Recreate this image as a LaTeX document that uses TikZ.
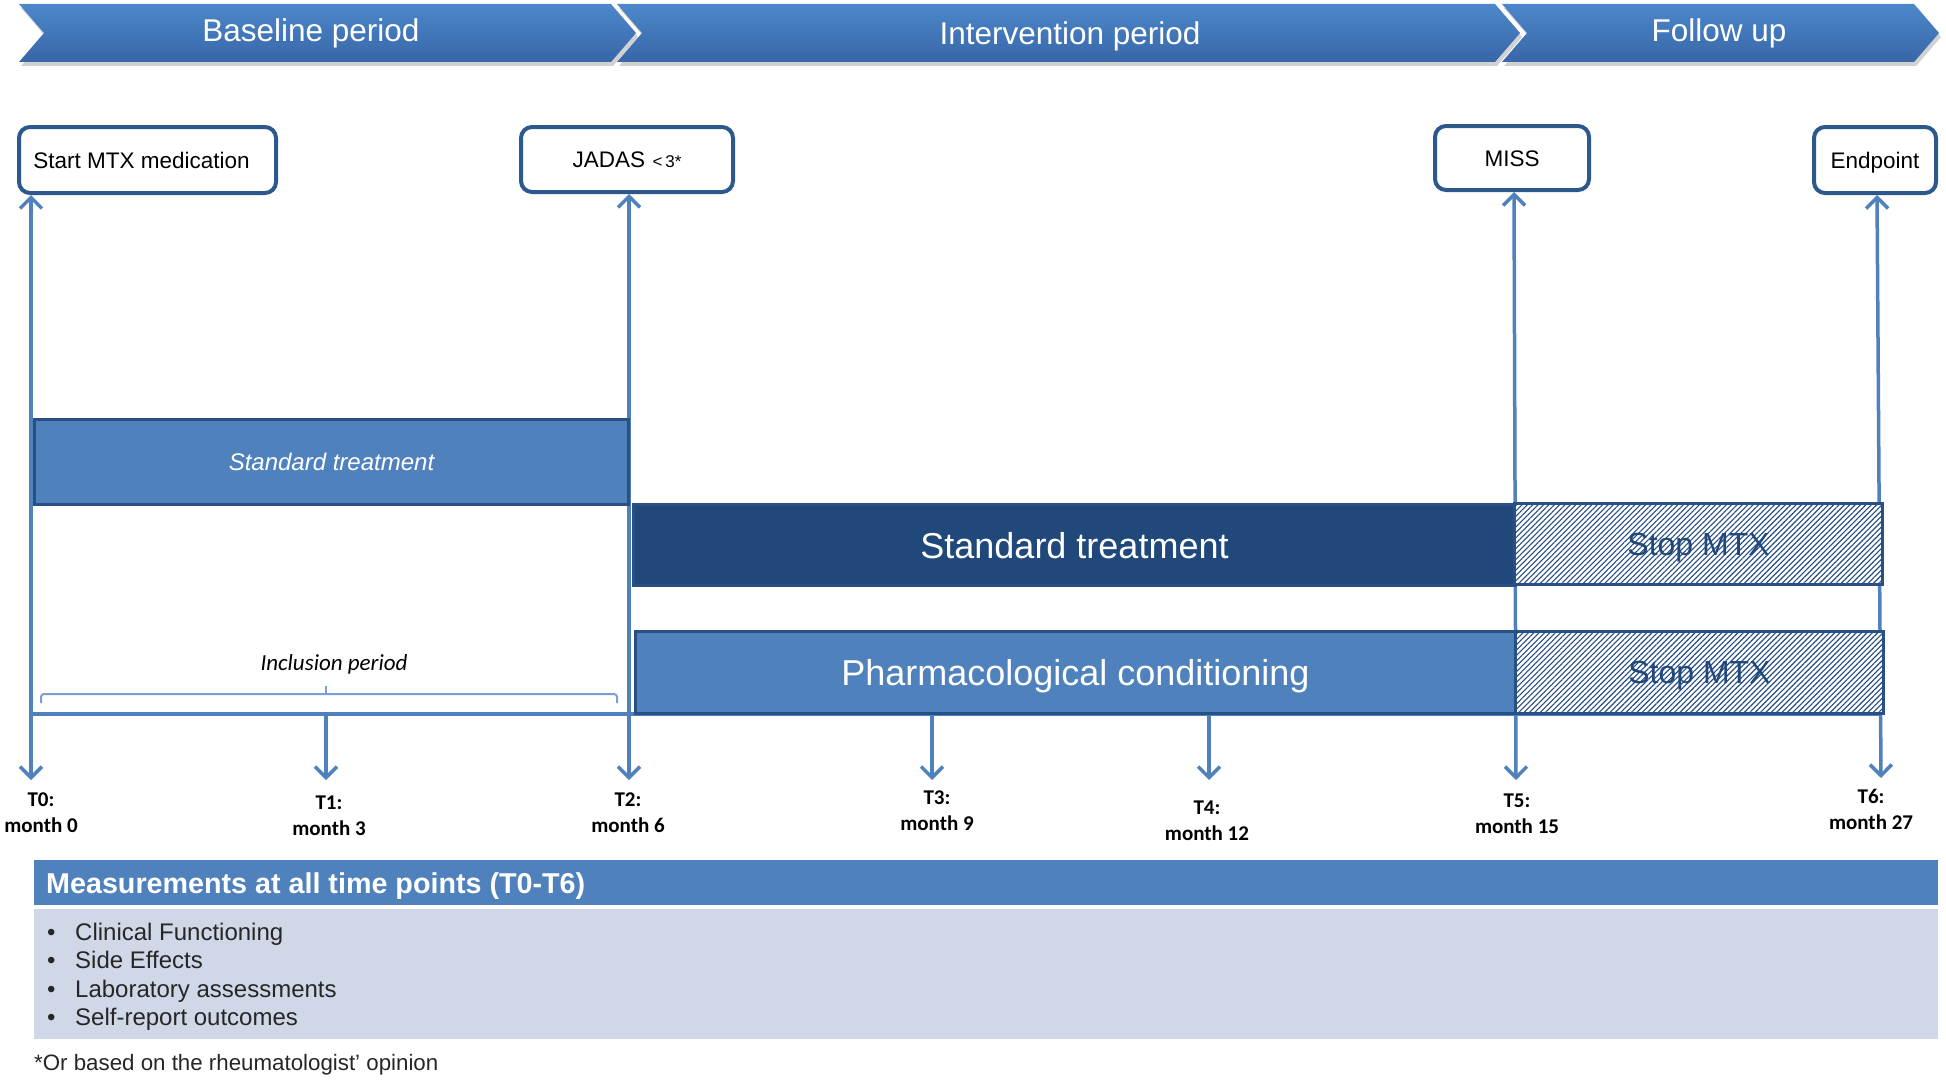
\documentclass[tikz,border=0pt]{standalone}
\usepackage{fontspec}
\setmainfont{Liberation Sans}
\newfontfamily\carlito{Carlito}
\usetikzlibrary{arrows.meta,patterns.meta}

\definecolor{linec}{RGB}{79,129,189}
\definecolor{boxb}{RGB}{44,88,140}
\definecolor{barb}{RGB}{40,80,132}
\definecolor{lightfill}{RGB}{79,129,189}
\definecolor{darkfill}{RGB}{32,72,123}
\definecolor{hatchc}{RGB}{35,75,128}
\definecolor{bodyfill}{RGB}{208,216,232}
\definecolor{bracec}{RGB}{120,160,210}
\definecolor{chevtop}{RGB}{76,136,202}
\definecolor{chevbot}{RGB}{56,102,168}

\tikzset{
  evbox/.style={draw=boxb, line width=4pt, rounded corners=11pt, fill=white, inner sep=0pt,
    font=\fontsize{22.5}{26}\selectfont, text height=16pt, text depth=0pt},
  tl/.style={draw=linec, line width=3.5pt},
  arr/.style={-{Straight Barb[length=11pt,width=22pt]}},
  darr/.style={{Straight Barb[length=11pt,width=22pt]}-{Straight Barb[length=11pt,width=22pt]}},
  lbar/.style={draw=barb, line width=3pt, fill=lightfill, inner sep=0pt, anchor=north west, text=white, text depth=0pt},
  dbar/.style={draw=barb, line width=3pt, fill=darkfill, inner sep=0pt, anchor=north west, text=white, text depth=0pt},
  hbar/.style={draw=barb, line width=3pt, inner sep=0pt, anchor=north west, preaction={fill=white},
    pattern={Lines[angle=45,distance=3.8pt,line width=1.1pt]}, pattern color=hatchc,
    text=darkfill, font=\fontsize{32}{36}\selectfont, text depth=0pt},
  bigtxt/.style={font=\fontsize{36}{40}\selectfont},
  chevtext/.style={text=white, anchor=base, inner sep=0pt, font=\fontsize{31.5}{36}\selectfont},
  tlab/.style={align=center, inner sep=0pt, font=\carlito\bfseries\fontsize{21}{26}\selectfont},
  mitem/.style={anchor=base west, inner sep=0pt, font=\fontsize{24}{28}\selectfont, text=black!85},
}

\begin{document}
\begin{tikzpicture}[x=1pt,y=-1pt]
\useasboundingbox[fill=white] (0,0) rectangle (1946,1081);

% ---- phase chevrons ----
\fill[black!40, opacity=.45] (21,8) -- (613,8) -- (638,37) -- (613,66) -- (21,66) -- (46,37) -- cycle;
\fill[black!40, opacity=.45] (619,8) -- (1497,8) -- (1522,37) -- (1497,66) -- (619,66) -- (644,37) -- cycle;
\fill[black!40, opacity=.45] (1504,8) -- (1916,8) -- (1941,37) -- (1916,66) -- (1504,66) -- (1529,37) -- cycle;
\shade[top color=chevtop, bottom color=chevbot] (19,4) -- (611,4) -- (636,33) -- (611,62) -- (19,62) -- (44,33) -- cycle;
\shade[top color=chevtop, bottom color=chevbot] (617,4) -- (1495,4) -- (1520,33) -- (1495,62) -- (617,62) -- (642,33) -- cycle;
\shade[top color=chevtop, bottom color=chevbot] (1502,4) -- (1914,4) -- (1939,33) -- (1914,62) -- (1502,62) -- (1527,33) -- cycle;
\node[chevtext] (cbase) at (311,42) {Baseline period};
\node[chevtext] (cint) at (1070,45) {Intervention period};
\node[chevtext] (cfol) at (1719,42) {Follow up};

% ---- event boxes ----
\node[evbox, minimum width=257, minimum height=66] (start) at (147.5,160) {Start MTX medication\hspace*{12pt}};
\node[evbox, minimum width=212, minimum height=65] (jadas) at (627,159.5) {JADAS\,\,{\fontsize{17}{20}\selectfont<\,3*}};
\node[evbox, minimum width=154, minimum height=64] (miss) at (1512,158) {MISS};
\node[evbox, minimum width=122, minimum height=66] (endp) at (1875,160) {Endpoint};

% ---- time labels ----
\node[tlab] (t0) at (41,813) {T0:\\month 0};
\node[tlab] (t1) at (329,816) {T1:\\month 3};
\node[tlab] (t2) at (628,813) {T2:\\month 6};
\node[tlab] (t3) at (937,811) {T3:\\month 9};
\node[tlab] (t4) at (1207,821) {T4:\\month 12};
\node[tlab] (t5) at (1517,814) {T5:\\month 15};
\node[tlab] (t6) at (1871,809) {T6:\\month 27};

% ---- axis and time lines ----
\coordinate (x0) at (31,0);
\coordinate (x2) at (629,0);
\coordinate (x5) at (1514,0);
\coordinate (x6) at (1877,0);
\coordinate (e0) at (31,780);
\coordinate (e2) at (629,780);
\coordinate (e5) at (1516,780);
\coordinate (e6) at (1881,778);
\coordinate (a1) at (326,714);
\coordinate (e1) at (326,780);
\coordinate (a3) at (932,714);
\coordinate (e3) at (932,780);
\coordinate (a4) at (1209,714);
\coordinate (e4) at (1209,780);
\coordinate (axl) at (31,714);
\coordinate (axr) at (1882,714);

\draw[tl] (axl) -- (axr);
\draw[tl, darr] (start.south -| x0) -- (e0);
\draw[tl, darr] (jadas.south -| x2) -- (e2);
\draw[tl, darr] (miss.south -| x5) -- (e5);
\draw[tl, darr] (endp.south -| x6) -- (e6);
\draw[tl, arr] (a1) -- (e1);
\draw[tl, arr] (a3) -- (e3);
\draw[tl, arr] (a4) -- (e4);

% ---- treatment bars ----
\node[lbar, minimum width=594, minimum height=85, font=\itshape\fontsize{24}{28}\selectfont] (st1) at (33,418) {Standard treatment};
\node[dbar, bigtxt, minimum width=882, minimum height=81] (st2) at (632,503) {Standard treatment};
\node[hbar, minimum width=368, minimum height=81] (stop1) at (1514,503) {Stop MTX};
\node[lbar, bigtxt, minimum width=880, minimum height=82] (pc) at (634,630) {Pharmacological conditioning};
\node[hbar, minimum width=368, minimum height=82] (stop2) at (1514,630) {Stop MTX};

% ---- inclusion period brace ----
\draw[bracec, line width=2pt, rounded corners=3pt] (41,703) -- (41,694) -- (617,694) -- (617,703);
\draw[bracec, line width=2pt] (326,694) -- (326,686);
\node[anchor=base, inner sep=0pt, font=\carlito\itshape\fontsize{23}{27}\selectfont] (incl) at (334,670) {Inclusion period};

% ---- measurements ----
\node[fill=lightfill, minimum width=1904, minimum height=45, anchor=north west, inner sep=0pt] (mhead) at (34,860) {};
\node[anchor=base west, inner sep=0pt, text=white, font=\bfseries\fontsize{28.7}{32}\selectfont] (mtitle) at (46,893) {Measurements at all time points (T0-T6)};
\node[fill=bodyfill, minimum width=1904, minimum height=130, anchor=north west, inner sep=0pt] (mbody) at (34,909) {};
\node[mitem] (m1) at (47,940) {\makebox[28pt][l]{•}Clinical Functioning};
\node[mitem] (m2) at (47,968) {\makebox[28pt][l]{•}Side Effects};
\node[mitem] (m3) at (47,997) {\makebox[28pt][l]{•}Laboratory assessments};
\node[mitem] (m4) at (47,1025) {\makebox[28pt][l]{•}Self-report outcomes};

\node[anchor=base west, inner sep=0pt, font=\fontsize{22.3}{26}\selectfont, text=black!85] (foot) at (34,1070) {*Or based on the rheumatologist’ opinion};
\end{tikzpicture}
\end{document}
